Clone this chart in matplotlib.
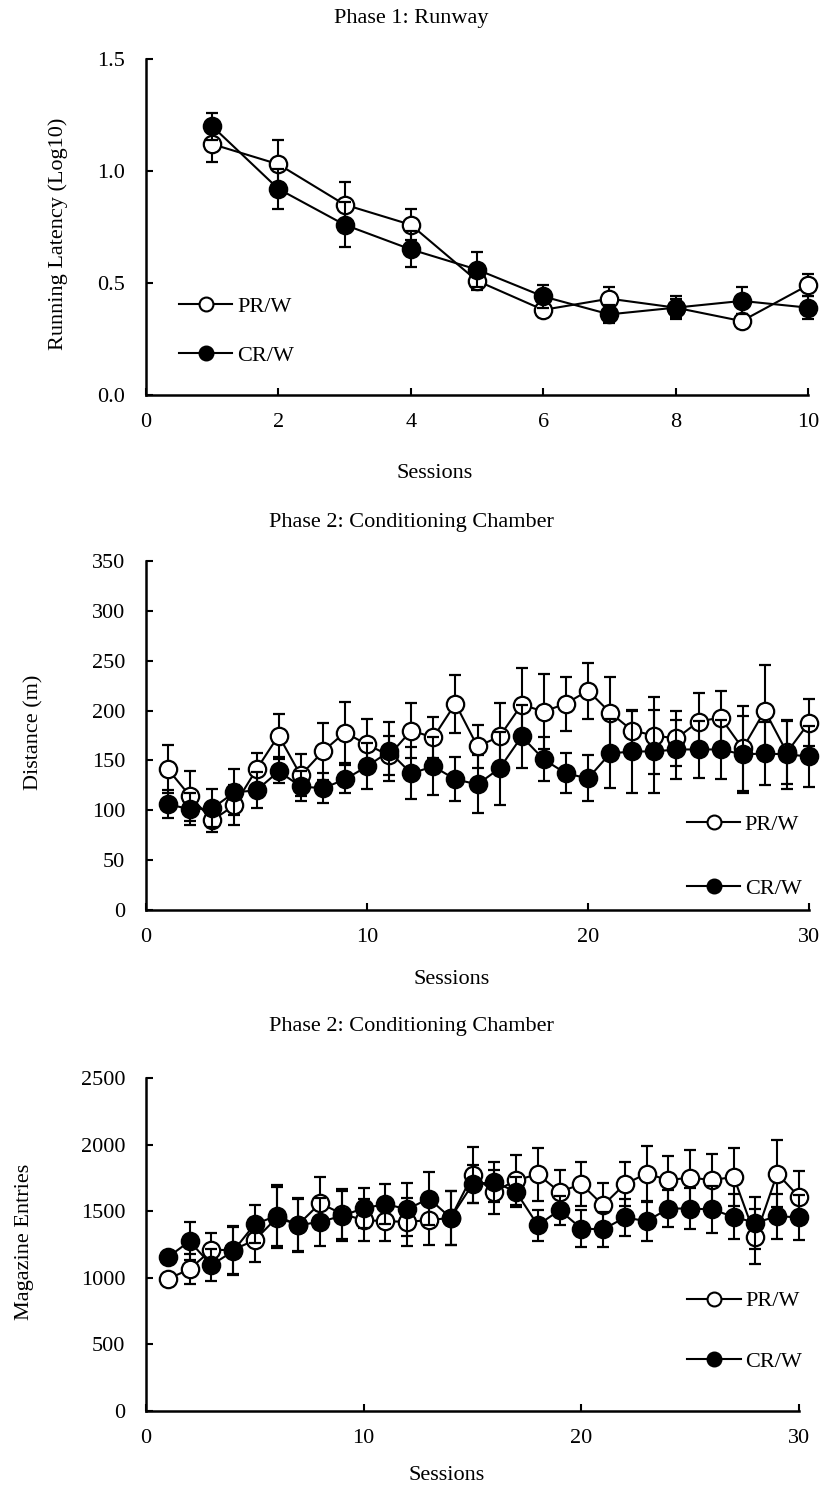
import matplotlib
matplotlib.use("Agg")
import matplotlib.pyplot as plt
from matplotlib.lines import Line2D

plt.rcParams['font.family'] = ['Liberation Serif', 'DejaVu Serif']
plt.rcParams['font.size'] = 16

# Phase 1: runway
sessions1 = list(range(1, 11))
pr1 = [1.12, 1.03, 0.85, 0.76, 0.51, 0.38, 0.43, 0.39, 0.33, 0.49]
pr1_err = [0.08, 0.11, 0.10, 0.07, 0.04, 0.03, 0.05, 0.04, 0.03, 0.05]
cr1 = [1.20, 0.92, 0.76, 0.65, 0.56, 0.44, 0.36, 0.39, 0.42, 0.39]
cr1_err = [0.06, 0.09, 0.10, 0.08, 0.08, 0.05, 0.04, 0.05, 0.06, 0.05]

# Phase 2: distance
sessions2 = list(range(1, 31))
pr2 = [141, 114, 90, 105, 141, 175, 135, 159, 178, 166, 155, 180, 173, 207, 164,
       174, 206, 199, 207, 220, 198, 180, 175, 172, 189, 193, 162, 200, 158, 188]
pr2_err = [24, 25, 12, 20, 16, 22, 21, 29, 31, 26, 20, 28, 21, 29, 22,
           34, 37, 38, 27, 28, 36, 20, 39, 28, 29, 27, 43, 46, 32, 24]
cr2 = [106, 101, 102, 118, 120, 139, 124, 122, 131, 144, 159, 137, 144, 131, 126,
       142, 174, 151, 137, 132, 157, 159, 159, 161, 161, 161, 156, 157, 156, 154]
cr2_err = [14, 16, 19, 23, 18, 12, 15, 15, 14, 23, 30, 26, 29, 22, 29,
           37, 32, 22, 20, 23, 35, 42, 42, 30, 29, 30, 39, 32, 35, 31]

# Phase 2: magazine entries
sessions3 = list(range(1, 31))
pr3 = [990, 1065, 1208, 1210, 1283, 1450, 1400, 1560, 1480, 1433, 1425, 1420, 1433, 1450, 1770,
       1645, 1733, 1777, 1645, 1703, 1545, 1703, 1783, 1733, 1753, 1733, 1758, 1308, 1783, 1608]
pr3_err = [40, 115, 127, 180, 165, 230, 200, 197, 190, 160, 150, 180, 190, 200, 212,
           167, 187, 198, 163, 167, 163, 167, 207, 180, 205, 195, 217, 208, 250, 192]
cr3 = [1153, 1275, 1095, 1200, 1403, 1465, 1395, 1420, 1465, 1522, 1553, 1515, 1595, 1450, 1702,
       1720, 1645, 1395, 1508, 1370, 1363, 1453, 1425, 1520, 1520, 1513, 1458, 1413, 1463, 1453]
cr3_err = [40, 145, 120, 180, 142, 230, 200, 180, 190, 150, 150, 200, 200, 200, 142,
           150, 112, 117, 108, 142, 130, 140, 147, 137, 155, 173, 170, 195, 168, 170]

W, H = 822, 1487
fig = plt.figure(figsize=(W / 100, H / 100), dpi=100)


def box(left, top, right, bottom):
    # pixel box -> figure fraction
    return [left / W, 1 - bottom / H, (right - left) / W, (bottom - top) / H]


def panel(rect, x, pr, pr_err, cr, cr_err, xlim, xticks, ylim, yticks, yfmt,
          title, title_y, ylabel, ylabel_xy, xlabel_xy, leg_anchor, leg_space):
    ax = fig.add_axes(box(*rect))
    style = dict(color='black', lw=1.5, marker='o', ms=12.5, mec='black', mew=1.6,
                 capsize=4, elinewidth=1.5, capthick=1.5)
    for bars in (ax.errorbar(x, pr, yerr=pr_err, mfc='white', zorder=2, **style),
                 ax.errorbar(x, cr, yerr=cr_err, mfc='black', zorder=3, **style)):
        for artist in bars.get_children():
            artist.set_clip_on(False)
    ax.set_xlim(*xlim)
    ax.set_ylim(*ylim)
    ax.set_xticks(xticks)
    ax.set_yticks(yticks)
    ax.set_yticklabels([yfmt.format(v) for v in yticks])
    for s in ['top', 'right']:
        ax.spines[s].set_visible(False)
    for s in ['left', 'bottom']:
        ax.spines[s].set_linewidth(1.8)
    ax.tick_params(axis='both', direction='in', length=5, width=1.5)
    ax.tick_params(axis='x', pad=13)
    ax.tick_params(axis='y', pad=15)
    handles = [Line2D([], [], color='black', lw=1.5, marker='o', ms=10,
                      mfc=fc, mec='black', mew=1.5) for fc in ('white', 'black')]
    ax.legend(handles, ['PR/W', 'CR/W'], loc='center left', bbox_to_anchor=leg_anchor,
              frameon=False, borderaxespad=0, borderpad=0, handlelength=2.4,
              handletextpad=0.2, labelspacing=leg_space)
    fig.text(411 / W, 1 - title_y / H, title, ha='center', va='center')
    fig.text(ylabel_xy[0] / W, 1 - ylabel_xy[1] / H, ylabel, rotation=90,
             ha='center', va='center')
    fig.text(xlabel_xy[0] / W, 1 - xlabel_xy[1] / H, 'Sessions',
             ha='center', va='center')
    return ax


panel((146, 59, 808, 395), sessions1, pr1, pr1_err, cr1, cr1_err,
      (0, 10), range(0, 11, 2), (0, 1.5), [0, 0.5, 1.0, 1.5], '{:.1f}',
      'Phase 1: Runway', 18, 'Running Latency (Log10)', (58, 234), (435, 473),
      (0.05, 0.19), 1.25)

panel((146, 561, 809, 910), sessions2, pr2, pr2_err, cr2, cr2_err,
      (0, 30), range(0, 31, 10), (0, 350), list(range(0, 351, 50)), '{:d}',
      'Phase 2: Conditioning Chamber', 523, 'Distance (m)', (34, 732), (452, 980),
      (0.816, 0.153), 1.95)

panel((146, 1078, 799, 1411), sessions3, pr3, pr3_err, cr3, cr3_err,
      (0, 30), range(0, 31, 10), (0, 2500), list(range(0, 2501, 500)), '{:d}',
      'Phase 2: Conditioning Chamber', 1027, 'Magazine Entries', (24, 1242), (447, 1475),
      (0.829, 0.239), 1.8)

fig.savefig('out.png', dpi=100)
